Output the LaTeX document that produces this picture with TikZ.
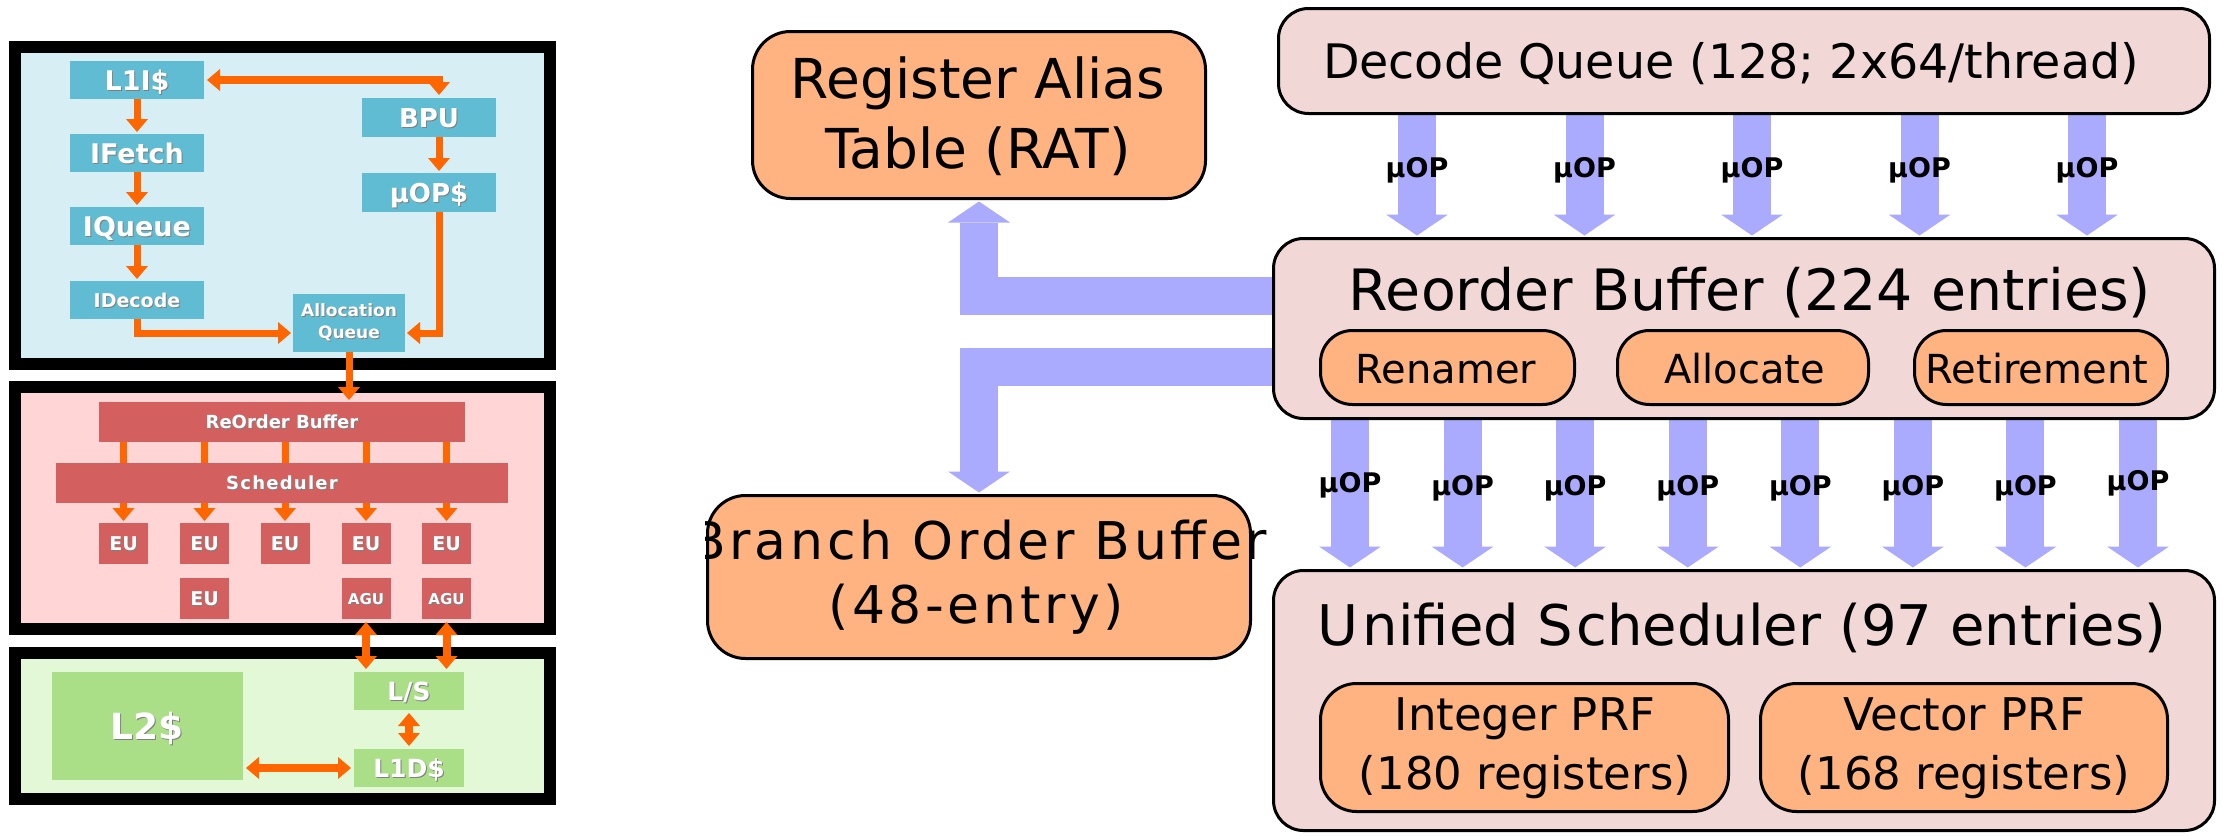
\documentclass[tikz,border=0pt]{standalone}
\usepackage{fontspec}
\setmainfont{DejaVu Sans}
\usetikzlibrary{arrows.meta}
\pgfdeclarelayer{back}
\pgfdeclarelayer{mid}
\pgfsetlayers{back,mid,main}
\definecolor{qblue}{HTML}{AAAAFF}
\definecolor{qorange}{HTML}{FFB380}
\definecolor{qpink}{HTML}{F2D7D7}
\definecolor{fOrange}{HTML}{FF6600}
\definecolor{tBg}{HTML}{D7EEF4}
\definecolor{tBox}{HTML}{5FBCD3}
\definecolor{mBg}{HTML}{FFD5D5}
\definecolor{mBox}{HTML}{D35F5F}
\definecolor{bBg}{HTML}{E3F8D6}
\definecolor{bBox}{HTML}{AADE87}
\definecolor{shc}{HTML}{808080}
\newcommand\fs[1]{\fontsize{#1}{#1}\selectfont}
\newcommand\sh[1]{\rlap{\hspace{1pt}\raisebox{-1pt}{\textcolor{shc}{#1}}}#1}
\tikzset{
  lbox/.style 2 args={inner sep=0pt, outer sep=0pt, text=white, font=\fs{#1}\bfseries, text height=#2pt, text depth=0pt},
  oar/.style={draw=fOrange, line width=7pt, -{Triangle[width=22pt,length=13pt,line width=0pt]}, shorten >=2pt},
  oard/.style={draw=fOrange, line width=8pt, {Triangle[width=22pt,length=13pt,line width=0pt]}-{Triangle[width=22pt,length=13pt,line width=0pt]}, shorten >=3pt, shorten <=3pt},
  obar/.style={draw=fOrange, line width=7pt},
  bar/.style={draw=qblue, line width=38pt, line join=miter, -{Triangle[width=62pt,length=21pt,line width=0pt]}, shorten >=3pt},
  pbox/.style={draw=black, line width=3pt, fill=qpink, rounded corners=30pt, inner sep=0pt, outer sep=0pt},
  obox/.style={draw=black, line width=3pt, fill=qorange, rounded corners=#1, inner sep=0pt, outer sep=0pt},
  ttl/.style={anchor=base, inner sep=0pt, font=\fs{#1}},
  bobt/.style={anchor=base, inner sep=0pt, font=\fs{52}\addfontfeature{LetterSpace=7}},
  uop/.style={anchor=base, inner sep=0pt, font=\fs{27}\bfseries},
}
\begin{document}
\begin{tikzpicture}[x=1pt,y=-1pt]
\useasboundingbox (0,0) rectangle (2223,835);

% ---------- left panels ----------
\begin{pgfonlayer}{back}
\draw[line width=12pt, fill=tBg] (15,47) rectangle (550,364);
\draw[line width=12pt, fill=mBg] (15,387) rectangle (550,629);
\draw[line width=12pt, fill=bBg] (15,653) rectangle (550,799);
\end{pgfonlayer}

\node[lbox={27}{20}, fill=tBox, minimum width=134pt, minimum height=38pt] (l1i) at (137,80) {\sh{L1I\$}};
\node[lbox={27}{20}, fill=tBox, minimum width=134pt, minimum height=38pt] (ifet) at (137,153) {\sh{IFetch}};
\node[lbox={27}{20}, fill=tBox, minimum width=134pt, minimum height=38pt] (iq) at (137,226) {\sh{IQueue}};
\node[lbox={19}{14}, fill=tBox, minimum width=134pt, minimum height=38pt] (idec) at (137,300) {\sh{IDecode}};
\node[lbox={26}{19}, fill=tBox, minimum width=134pt, minimum height=39pt] (bpu) at (429,117.5) {\sh{BPU}};
\node[lbox={26}{19}, fill=tBox, minimum width=134pt, minimum height=39pt] (uopc) at (429,192.5) {\sh{µOP\$}};
\node[inner sep=0pt, outer sep=0pt, text=white, font=\fontsize{17}{22}\selectfont\bfseries, align=center, fill=tBox, minimum width=112pt, minimum height=58pt] (aq) at (349,323) {\sh{Allocation}\\\sh{Queue}};

\node[lbox={18}{13}, fill=mBox, minimum width=366pt, minimum height=40pt] (robl) at (282,422) {\sh{ReOrder Buffer}};
\node[lbox={18}{13}, fill=mBox, minimum width=452pt, minimum height=40pt] (sch) at (282,483) {\addfontfeature{LetterSpace=7}\sh{Scheduler}};
\foreach \x [count=\k] in {123.5,204.5,285,366,446.5}
  \node[lbox={19}{14}, fill=mBox, minimum width=49pt, minimum height=41pt] (eu\k) at (\x,543.5) {\sh{EU}};
\node[lbox={19}{14}, fill=mBox, minimum width=49pt, minimum height=41pt] (eu6) at (204.5,598.5) {\sh{EU}};
\node[lbox={15}{11}, fill=mBox, minimum width=49pt, minimum height=41pt] (agu1) at (366,598.5) {\sh{AGU}};
\node[lbox={15}{11}, fill=mBox, minimum width=49pt, minimum height=41pt] (agu2) at (446.5,598.5) {\sh{AGU}};

\node[lbox={36}{26}, fill=bBox, minimum width=191pt, minimum height=108pt] (l2) at (147.5,726) {\sh{L2\$}};
\node[lbox={25}{18}, fill=bBox, minimum width=110pt, minimum height=38pt] (ls) at (409,691) {\sh{L/S}};
\node[lbox={25}{18}, fill=bBox, minimum width=110pt, minimum height=38pt] (l1d) at (409,768) {\sh{L1D\$}};

\begin{pgfonlayer}{mid}
\draw[oard] (l1i.east) -| ([xshift=10pt]bpu.north);
\draw[oar] (l1i.south) -- (ifet.north);
\draw[oar] (ifet.south) -- (iq.north);
\draw[oar] (iq.south) -- (idec.north);
\draw[oar] ([xshift=10pt]bpu.south) -- ([xshift=10pt]uopc.north);
\draw[oar] ([xshift=10pt]uopc.south) |- ([yshift=-10pt]aq.east);
\draw[oar] (idec.south) |- ([yshift=-10pt]aq.west);
\draw[oar] (aq.south) -- (robl.north -| aq.south);
\foreach \k in {1,...,5} {
  \draw[obar] (robl.south -| eu\k) -- (sch.north -| eu\k);
  \draw[oar] (sch.south -| eu\k) -- (eu\k.north);
}
\draw[oard] (agu1.south) -- (ls.north -| agu1.south);
\draw[oard] (agu2.south) -- (ls.north -| agu2.south);
\draw[oard] (ls.south) -- (l1d.north);
\draw[oard] (l2.east |- l1d.west) -- (l1d.west);
\end{pgfonlayer}

% ---------- right side ----------
\node[pbox, minimum width=931pt, minimum height=105pt] (DQ) at (1744,61) {};
\node[pbox, minimum width=941pt, minimum height=180pt] (ROB) at (1744,328.5) {};
\node[pbox, minimum width=941pt, minimum height=260pt] (US) at (1744,700.5) {};
\node[obox=38pt, minimum width=453pt, minimum height=167pt] (RAT) at (979,115) {};
\node[obox=38pt, minimum width=543pt, minimum height=163pt] (BOB) at (979,577) {};
\node[obox=32pt, minimum width=254pt, minimum height=74pt] (ren) at (1447.5,367.5) {};
\node[obox=32pt, minimum width=251pt, minimum height=74pt] (alc) at (1743,367.5) {};
\node[obox=32pt, minimum width=253pt, minimum height=74pt] (ret) at (2041,367.5) {};
\node[obox=36pt, minimum width=408pt, minimum height=128pt] (iprf) at (1524.5,747.5) {};
\node[obox=36pt, minimum width=407pt, minimum height=128pt] (vprf) at (1964,747.5) {};

\node[ttl=47.5] (dqt) at (1731,78) {Decode Queue (128; 2x64/thread)};
\node[ttl=57] (robt) at (1750,310) {Reorder Buffer (224 entries)};
\node[ttl=40] (rent) at (1446,383) {Renamer};
\node[ttl=40] (alct) at (1744.5,383) {Allocate};
\node[ttl=40] (rett) at (2037,383) {Retirement};
\node[ttl=56] (ust) at (1742,645) {U\kern4pt nified S\kern4pt cheduler (97 entries)};
\node[ttl=45] (ip1) at (1525,730) {Integer PRF};
\node[ttl=45] (ip2) at (1525,789) {(180 registers)};
\node[ttl=45] (vp1) at (1964,730) {Vector PRF};
\node[ttl=45] (vp2) at (1964,789) {(168 registers)};
\node[ttl=55] (rat1) at (978,98) {Register Alias};
\node[ttl=55] (rat2) at (978,168) {Table (RAT)};
\begin{scope}
\clip (705,480) rectangle (1300,680);
\node[bobt] (bob1) at (979,559) {Branch Order Buffer};
\node[bobt] (bob2) at (976,623) {(48-entry)};
\end{scope}

\begin{pgfonlayer}{mid}
\foreach \i in {0,...,4} {
  \pgfmathsetmacro\dx{-327+167.5*\i}
  \draw[bar] ([xshift=\dx pt]DQ.south) -- ([xshift=\dx pt]ROB.north);
}
\foreach \i in {0,...,7} {
  \pgfmathsetmacro\dx{-394+112.57*\i}
  \draw[bar] ([xshift=\dx pt]ROB.south) -- ([xshift=\dx pt]US.north);
}
\draw[bar] ([yshift=32.5pt]ROB.west) -| (RAT.south);
\draw[bar] ([yshift=-38pt]ROB.west) -| (BOB.north);
\end{pgfonlayer}

\foreach \i in {0,...,4} {
  \pgfmathsetmacro\xx{1417+167.5*\i}
  \node[uop] (ua\i) at (\xx,177) {µOP};
}
\foreach \i/\yy in {0/492,1/495,2/495,3/495,4/495,5/495,6/495,7/490} {
  \pgfmathsetmacro\xx{1350+112.57*\i}
  \node[uop] (ub\i) at (\xx,\yy) {µOP};
}
\end{tikzpicture}
\end{document}
